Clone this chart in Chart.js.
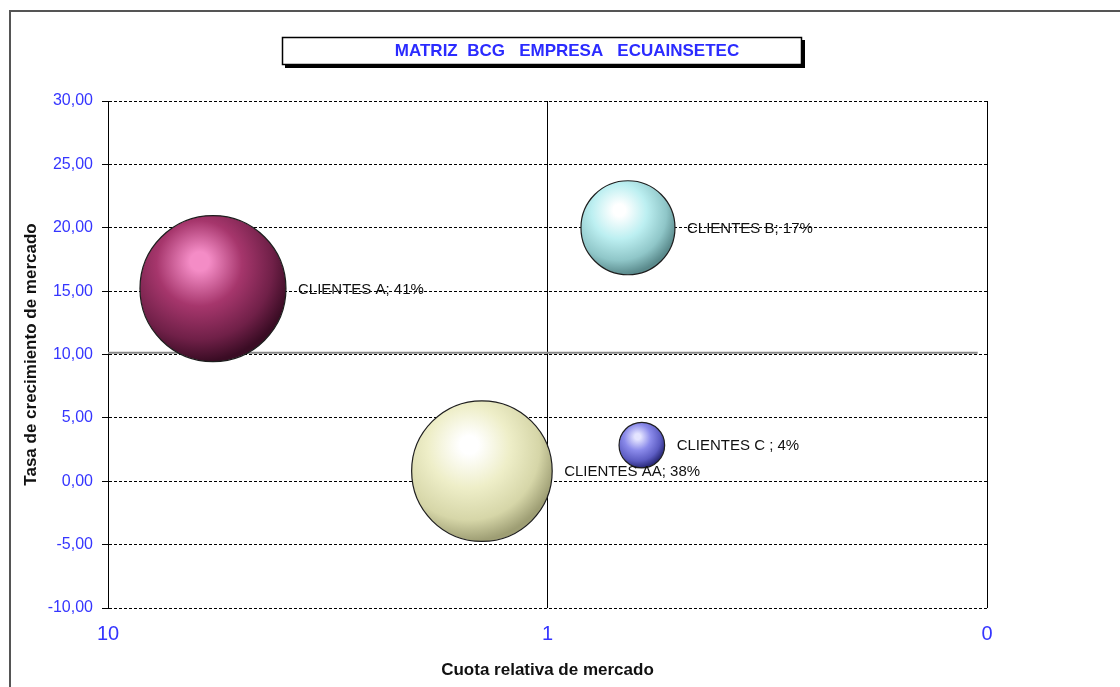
<!DOCTYPE html>
<html>
<head>
<meta charset="utf-8">
<title>Matriz BCG</title>
<script src="https://cdn.jsdelivr.net/npm/chart.js@4/dist/chart.umd.min.js"></script>
<style>
  body { margin: 0; background: #fff; }
  #wrap { width: 1120px; height: 687px; }
</style>
</head>
<body>
<div id="wrap"><canvas id="chart"></canvas></div>
<script>
"use strict";

const clientNames = ["CLIENTES AA", "CLIENTES A", "CLIENTES B", "CLIENTES C "];
const marketShare = [1.41, 5.77, 0.656, 0.61];   // cuota relativa de mercado (eje X, log)
const marketGrowth = [0.8, 15.2, 20.0, 2.85];    // tasa de crecimiento de mercado
const salesPercent = [38, 41, 17, 4];            // tamaño de la burbuja (%)
const xTickValues = [10, 1, 0.1];
const xTickLabels = ["10", "1", "0"];
const growthDivider = 10.13;                      // línea horizontal gris
const dividerEnd = 0.105;

// brillo / base / medio / sombra de cada esfera
const sphereColors = [
    ["#FFFFFF", "#EEEEC8", "#D6D6A8", "#9E9E74"],
    ["#F48CC6", "#A6366C", "#702048", "#3A0C24"],
    ["#FFFFFF", "#BCEFF1", "#8FC6C8", "#5A8A8C"],
    ["#E4E4FF", "#8A8AEA", "#5C5CC2", "#2A2A7A"]
];

const FONT = "'Liberation Sans', Arial, sans-serif";
const canvas = document.getElementById("chart");

const bubbleRadius = (pct) => 11.4 * Math.sqrt(pct);

function sphereFill(ctx) {
    if (ctx.type !== "data") return sphereColors[0][1];
    const chart = ctx.chart;
    const xs = chart.scales.x, ys = chart.scales.y;
    const i = ctx.dataIndex;
    const cx = xs.getPixelForValue(marketShare[i]);
    const cy = ys.getPixelForValue(marketGrowth[i]);
    const r = bubbleRadius(salesPercent[i]);
    if (!isFinite(cx) || !isFinite(cy)) return sphereColors[i][1];
    const [light, base, mid, dark] = sphereColors[i];
    const g = chart.ctx.createRadialGradient(cx - 0.18 * r, cy - 0.38 * r, 0,
        cx - 0.2 * r, cy - 0.3 * r, 1.3 * r);
    g.addColorStop(0, light);
    g.addColorStop(0.1, light);
    g.addColorStop(0.45, base);
    g.addColorStop(0.78, mid);
    g.addColorStop(1, dark);
    return g;
}

const decorPlugin = {
    id: "decor",
    beforeDraw(chart) {
        const c = chart.ctx;
        c.save();
        // marco exterior
        c.strokeStyle = "#555";
        c.lineWidth = 2;
        c.beginPath();
        c.moveTo(10, 687);
        c.lineTo(10, 11);
        c.lineTo(1120, 11);
        c.stroke();
        // caja del título con sombra
        c.fillStyle = "#000";
        c.fillRect(285, 40, 520, 28);
        c.fillStyle = "#fff";
        c.fillRect(282, 37, 520, 28);
        c.strokeStyle = "#000";
        c.lineWidth = 1.5;
        c.strokeRect(282.5, 37.5, 519, 27);
        c.fillStyle = "#2B2BFF";
        c.font = "bold 17px " + FONT;
        c.textAlign = "center";
        c.textBaseline = "middle";
        c.fillText("MATRIZ  BCG   EMPRESA   ECUAINSETEC", 567, 51);
        c.restore();
    },
    beforeDatasetsDraw(chart) {
        const c = chart.ctx;
        const xs = chart.scales.x, ys = chart.scales.y;
        const y = ys.getPixelForValue(growthDivider);
        c.save();
        c.strokeStyle = "#8a8a8a";
        c.lineWidth = 2;
        c.beginPath();
        c.moveTo(xs.getPixelForValue(10), y);
        c.lineTo(xs.getPixelForValue(dividerEnd), y);
        c.stroke();
        c.restore();
    },
    afterDatasetsDraw(chart) {
        const c = chart.ctx;
        const meta = chart.getDatasetMeta(0);
        c.save();
        c.font = "15px " + FONT;
        c.fillStyle = "#111";
        c.textAlign = "left";
        c.textBaseline = "middle";
        meta.data.forEach((el, i) => {
            const r = el.options.radius;
            c.fillText(clientNames[i] + "; " + salesPercent[i] + "%", el.x + r + 12, el.y + 1);
        });
        c.restore();
    }
};

new Chart(canvas, {
    type: "bubble",
    data: {
        datasets: [{
            label: "Clientes",
            data: marketShare.map((x, i) => ({ x: x, y: marketGrowth[i] })),
            radius: (ctx) => bubbleRadius(salesPercent[ctx.dataIndex] || 0),
            hoverRadius: 0,
            backgroundColor: sphereFill,
            borderColor: "#1e1e1e",
            borderWidth: 1.2,
            clip: false
        }]
    },
    options: {
        responsive: true,
        maintainAspectRatio: false,
        devicePixelRatio: 1,
        animation: false,
        events: [],
        layout: {
            padding: { left: 12, top: 101, right: 133, bottom: 0 }
        },
        plugins: {
            legend: { display: false },
            tooltip: { enabled: false },
            title: { display: false }
        },
        scales: {
            x: {
                type: "logarithmic",
                reverse: true,
                min: 0.1,
                max: 10,
                afterBuildTicks: (scale) => {
                    scale.ticks = xTickValues.map(v => ({ value: v }));
                },
                afterFit: (scale) => { scale.height = 79; },
                ticks: {
                    color: "#3535FF",
                    font: { family: FONT, size: 20 },
                    padding: 14,
                    autoSkip: false,
                    maxRotation: 0,
                    callback: (value) => xTickLabels[xTickValues.indexOf(value)]
                },
                grid: { color: "#000", lineWidth: 1, drawTicks: false },
                border: { display: false },
                title: {
                    display: true,
                    text: "Cuota relativa de mercado",
                    color: "#111",
                    font: { family: FONT, size: 17, weight: "bold" },
                    padding: { top: 0, bottom: 6 }
                }
            },
            y: {
                min: -10,
                max: 30,
                afterFit: (scale) => { scale.width = 96; },
                ticks: {
                    stepSize: 5,
                    color: "#3535FF",
                    font: { family: FONT, size: 16 },
                    padding: 9,
                    callback: (value) => value.toFixed(2).replace(".", ",")
                },
                grid: { color: "#000", lineWidth: 1, drawTicks: true, tickLength: 6 },
                border: { display: true, color: "#000", width: 1, dash: [3, 2] },
                title: {
                    display: true,
                    text: "Tasa de crecimiento de mercado",
                    color: "#111",
                    font: { family: FONT, size: 17, weight: "bold" },
                    padding: { top: 9, bottom: 0 }
                }
            }
        }
    },
    plugins: [decorPlugin]
});
</script>
</body>
</html>
